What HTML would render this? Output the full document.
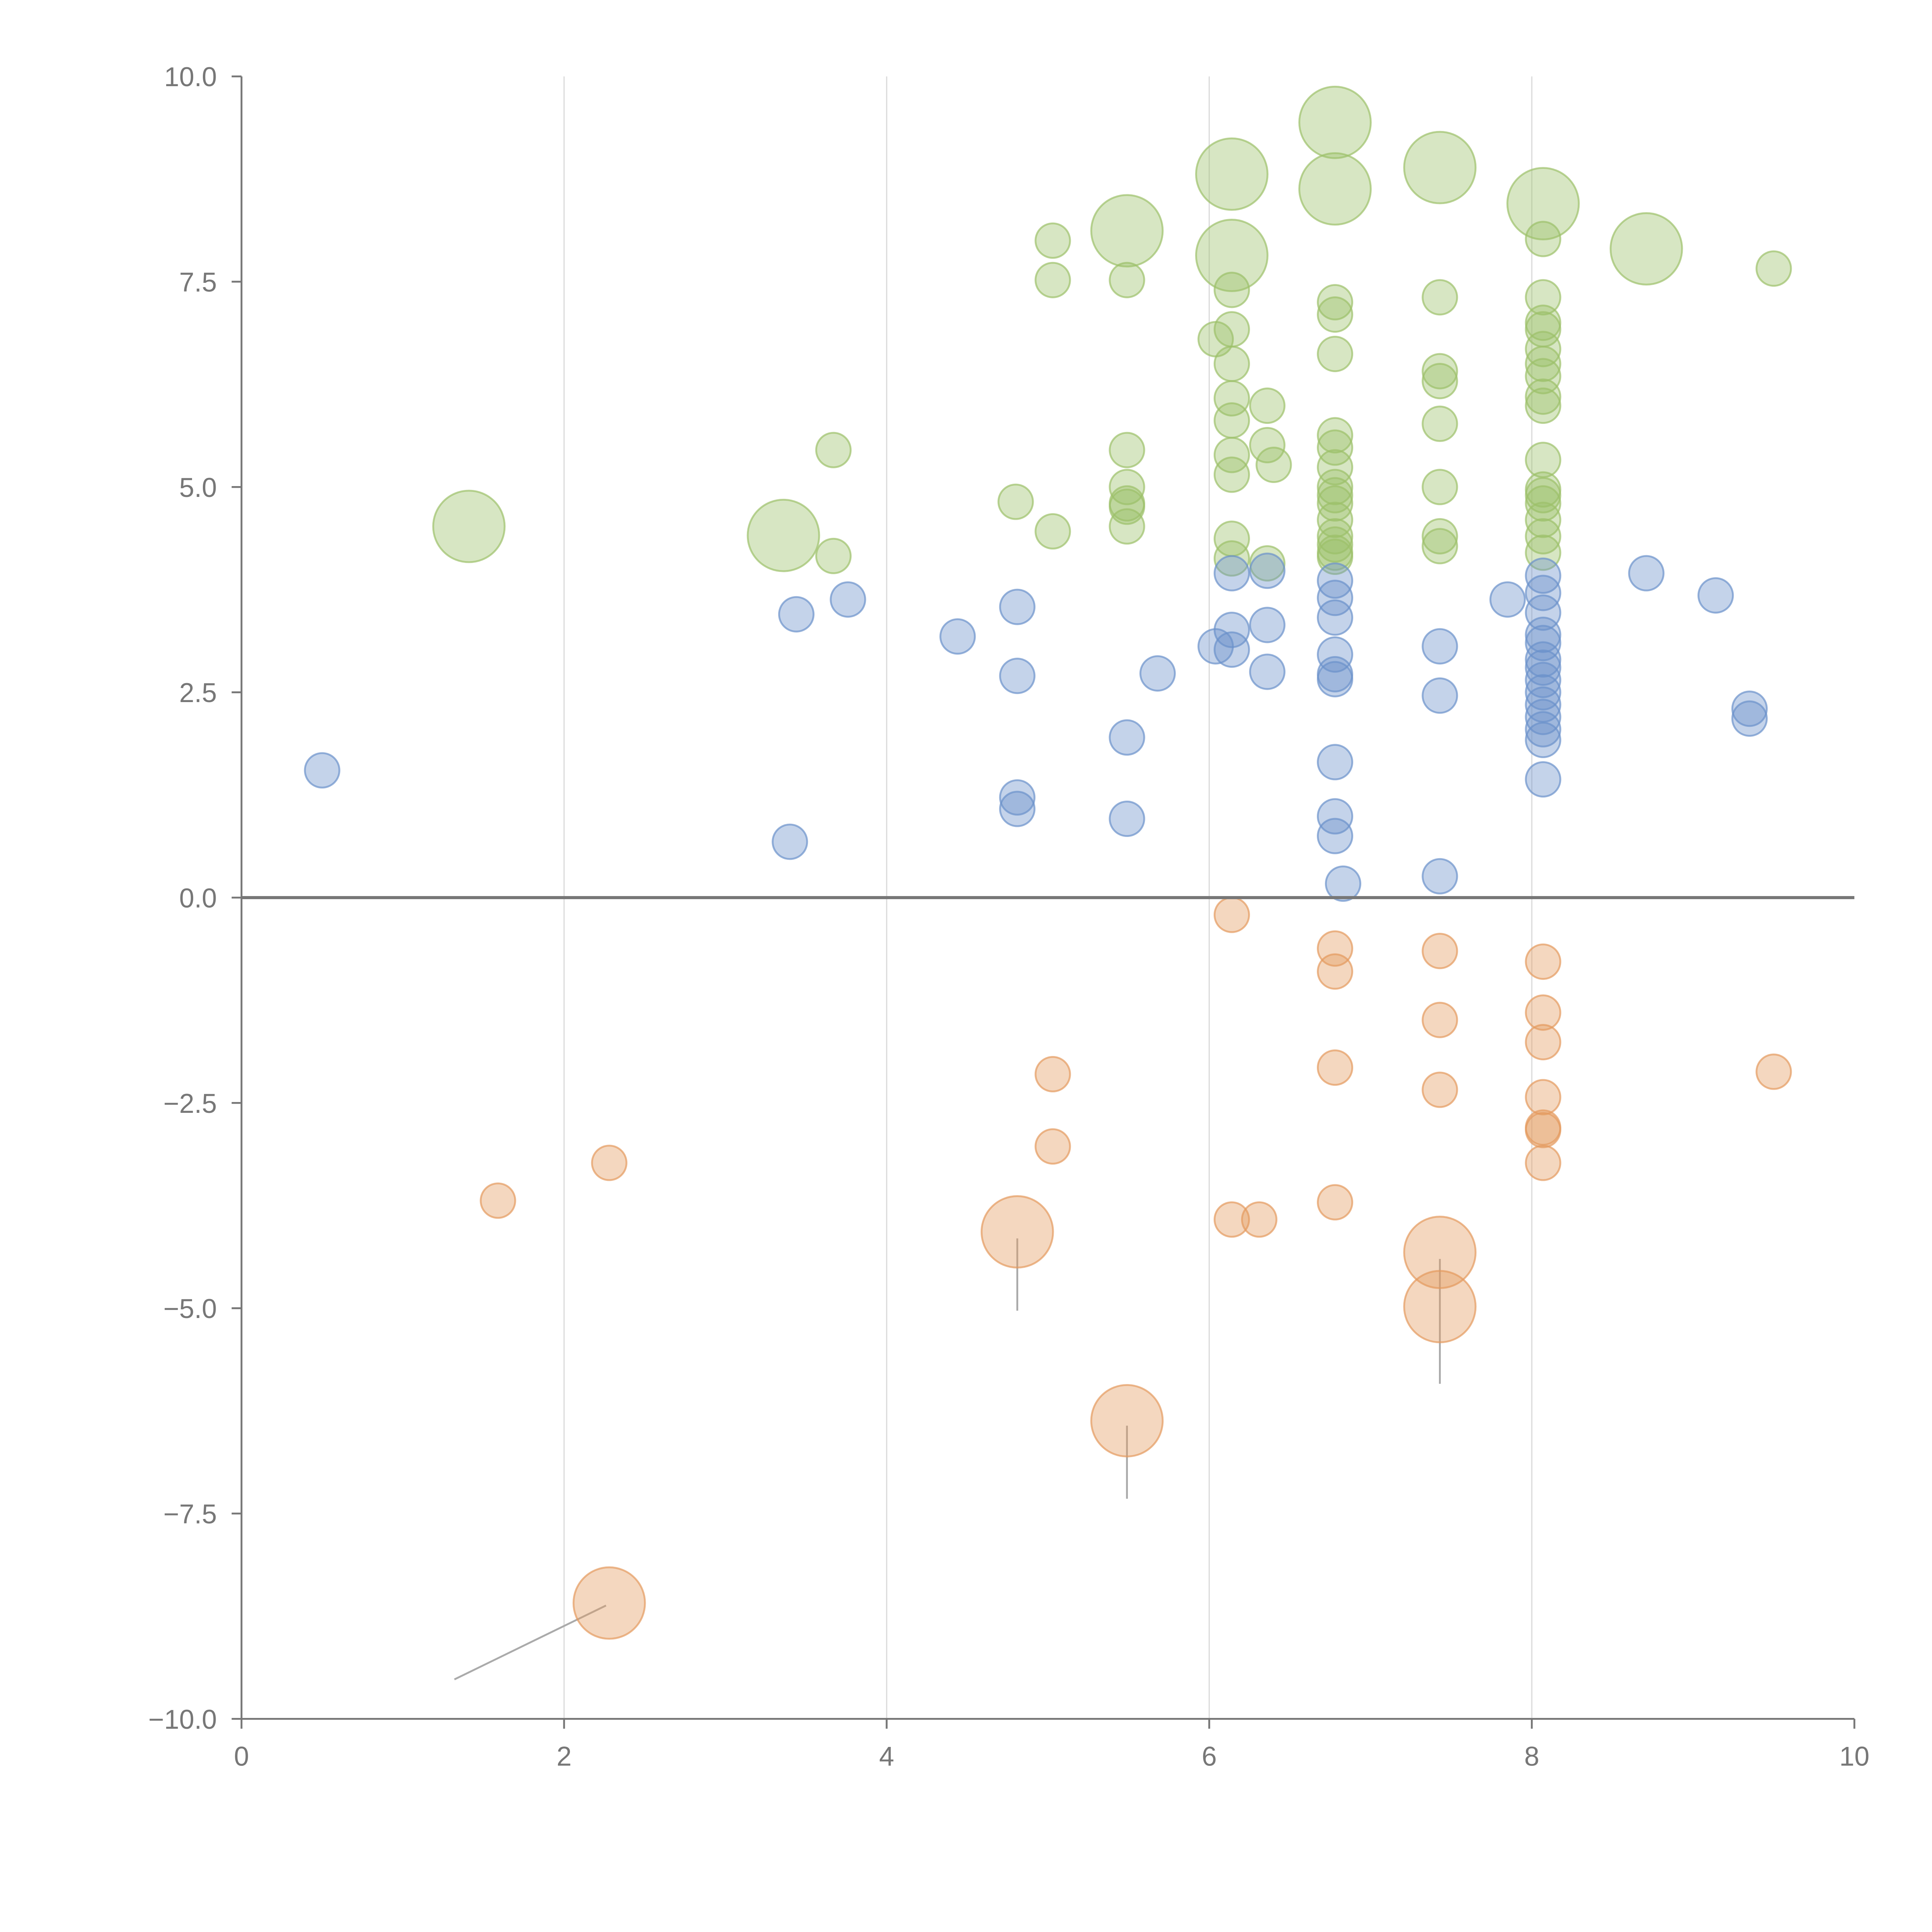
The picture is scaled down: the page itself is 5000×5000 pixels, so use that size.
<!DOCTYPE html>
<html><head><meta charset="utf-8"><style>html,body{margin:0;padding:0;background:#fff}svg{display:block}</style></head>
<body>
<svg id="chart" width="5000" height="5000" viewBox="0 0 1568 1568" xmlns="http://www.w3.org/2000/svg" font-family="Liberation Sans, sans-serif"></svg>
<script>
const xTicks=[0,2,4,6,8,10];
const yTicks=[-10,-7.5,-5,-2.5,0,2.5,5,7.5,10];
const yTickLabels=["\u221210.0","\u22127.5","\u22125.0","\u22122.5","0.0","2.5","5.0","7.5","10.0"];
const greenX=[3.67,3.67,4.80,5.03,5.03,5.03,5.49,5.49,5.49,5.49,5.49,5.49,6.04,6.14,6.14,6.14,6.14,6.14,6.14,6.14,6.14,6.14,6.36,6.36,6.40,6.36,6.78,6.78,6.78,6.78,6.78,6.78,6.78,6.78,6.78,6.78,6.78,6.78,6.78,6.78,7.43,7.43,7.43,7.43,7.43,7.43,7.43,8.07,8.07,8.07,8.07,8.07,8.07,8.07,8.07,8.07,8.07,8.07,8.07,8.07,8.07,8.07,8.07,9.5,1.41,3.36,5.49,6.14,6.14,6.78,6.78,7.43,8.07,8.71];
const greenY=[5.45,4.16,4.82,8.0,7.52,4.46,7.52,5.45,5.0,4.8,4.76,4.52,6.8,7.4,6.92,6.5,6.08,5.81,5.39,5.15,4.37,4.13,5.99,5.51,5.27,4.07,7.25,7.1,6.62,5.63,5.48,5.24,5.0,4.9,4.8,4.6,4.4,4.3,4.2,4.15,7.31,6.41,6.29,5.77,5.0,4.4,4.28,8.02,7.31,7.0,6.92,6.68,6.5,6.35,6.1,5.99,5.33,4.97,4.9,4.8,4.6,4.4,4.2,7.66,4.52,4.41,8.12,8.81,7.82,9.44,8.63,8.89,8.45,7.9];
const greenSize=[1,1,1,1,1,1,1,1,1,1,1,1,1,1,1,1,1,1,1,1,1,1,1,1,1,1,1,1,1,1,1,1,1,1,1,1,1,1,1,1,1,1,1,1,1,1,1,1,1,1,1,1,1,1,1,1,1,1,1,1,1,1,1,1,2,2,2,2,2,2,2,2,2,2];
const blueX=[0.5,3.40,3.44,3.76,4.44,4.81,4.81,4.81,4.81,5.49,5.49,5.68,6.04,6.14,6.14,6.14,6.36,6.36,6.36,6.78,6.78,6.78,6.78,6.78,6.78,6.78,6.78,6.78,6.83,7.43,7.43,7.43,7.85,8.07,8.07,8.07,8.07,8.07,8.07,8.07,8.07,8.07,8.07,8.07,8.07,8.07,8.07,8.71,9.14,9.35,9.35];
const blueY=[1.55,0.68,3.45,3.63,3.18,3.54,2.70,1.22,1.08,1.95,0.96,2.73,3.06,3.95,3.26,3.02,3.98,3.32,2.75,3.86,3.65,3.41,2.96,2.72,2.66,1.65,0.99,0.75,0.17,3.06,2.46,0.26,3.63,3.92,3.71,3.47,3.2,3.1,2.9,2.8,2.65,2.5,2.35,2.2,2.05,1.92,1.44,3.95,3.68,2.3,2.18];
const orangeX=[1.59,2.28,5.03,5.03,6.14,6.14,6.31,6.78,6.78,6.78,6.78,7.43,7.43,7.43,8.07,8.07,8.07,8.07,8.07,8.07,8.07,9.5,2.28,4.81,5.49,7.43,7.43];
const orangeY=[-3.69,-3.23,-2.15,-3.03,-0.21,-3.92,-3.92,-0.62,-0.9,-2.07,-3.71,-0.65,-1.49,-2.34,-0.78,-1.4,-1.76,-2.43,-2.8,-2.83,-3.23,-2.12,-8.59,-4.07,-6.37,-4.32,-4.98];
const orangeSize=[1,1,1,1,1,1,1,1,1,1,1,1,1,1,1,1,1,1,1,1,1,1,2,2,2,2,2];
const leaderX1=[1.32,4.81,5.49,7.43];
const leaderY1=[-9.52,-4.15,-6.43,-4.4];
const leaderX2=[2.26,4.81,5.49,7.43];
const leaderY2=[-8.62,-5.03,-7.32,-5.92];

const NS="http://www.w3.org/2000/svg";
const svg=document.getElementById('chart');
const L=196,R=1505,T=62,B=1395;
const sx=v=>L+(v-0)/(10-0)*(R-L);
const sy=v=>B-(v+10)/20*(B-T);
const rad=s=>s===2?29:14;
function mk(tag,attrs){const e=document.createElementNS(NS,tag);for(const k in attrs)e.setAttribute(k,attrs[k]);svg.appendChild(e);return e;}

xTicks.forEach(t=>{if(t>0&&t<10){const g=mk('line',{x1:sx(t),x2:sx(t),y1:T,y2:B,stroke:'#dcdcdc','stroke-width':1});

}});
const ya=mk('line',{x1:L,x2:L,y1:T,y2:B,stroke:'#777','stroke-width':1.5});


const xa=mk('line',{x1:L,x2:R,y1:B,y2:B,stroke:'#777','stroke-width':1.5});


xTicks.forEach(t=>{const tk=mk('line',{x1:sx(t),x2:sx(t),y1:B,y2:B+8,stroke:'#777','stroke-width':1.5});


const tx=mk('text',{x:sx(t),y:B+38,'text-anchor':'middle','font-size':22,fill:'#777'});tx.textContent=String(t);

});
yTicks.forEach((t,i)=>{const tk=mk('line',{x1:L-8,x2:L,y1:sy(t),y2:sy(t),stroke:'#777','stroke-width':1.5});


const tx=mk('text',{x:L-20,y:sy(t)+8,'text-anchor':'end','font-size':22,fill:'#777'});tx.textContent=yTickLabels[i];

});
leaderX1.forEach((v,i)=>{const l=mk('line',{x1:sx(v),y1:sy(leaderY1[i]),x2:sx(leaderX2[i]),y2:sy(leaderY2[i]),stroke:'#aaa','stroke-width':1.5});

});
function series(xs,ys,sz,col,name){xs.forEach((v,i)=>{const c=mk('circle',{cx:sx(v),cy:sy(ys[i]),r:rad(sz?sz[i]:1),fill:col,'fill-opacity':0.4,stroke:col,'stroke-opacity':0.7,'stroke-width':1.5});

});}
series(greenX,greenY,greenSize,'#9cc06a','green-bubble');
series(blueX,blueY,null,'#6b91cb','blue-bubble');
series(orangeX,orangeY,orangeSize,'#e49a5e','orange-bubble');
const z=mk('line',{x1:L,x2:R,y1:sy(0),y2:sy(0),stroke:'#777','stroke-width':2.5});


</script>
</body></html>
